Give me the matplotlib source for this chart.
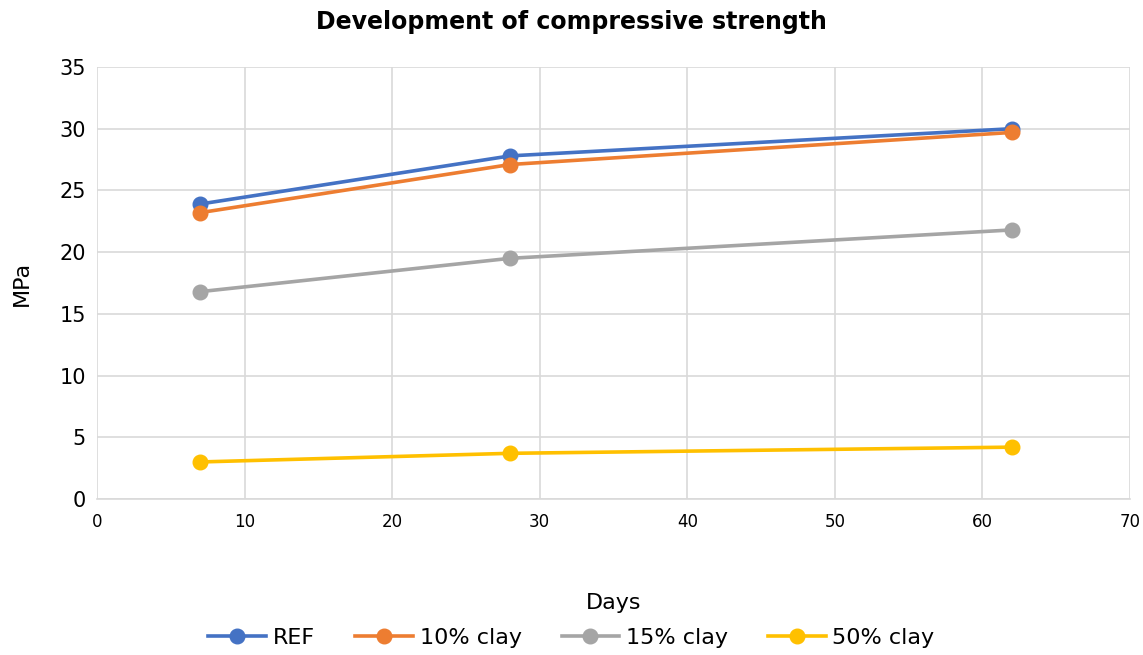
import matplotlib
matplotlib.use("Agg")
import matplotlib.pyplot as plt

days = [7, 28, 62]
ref = [23.9, 27.8, 30.0]
clay10 = [23.2, 27.1, 29.7]
clay15 = [16.8, 19.5, 21.8]
clay50 = [3.0, 3.7, 4.2]

series = [
    ("REF", ref, "#4472C4"),
    ("10% clay", clay10, "#ED7D31"),
    ("15% clay", clay15, "#A5A5A5"),
    ("50% clay", clay50, "#FFC000"),
]

plt.rcParams['font.family'] = ['DejaVu Sans']

fig = plt.figure(figsize=(11.43, 6.55), dpi=100)
ax = fig.add_axes([0.0849, 0.2382, 0.9037, 0.6595])

for name, vals, col in series:
    ax.plot(days, vals, color=col, lw=2.6, marker="o", ms=10.5, label=name)

ax.set_xlim(0, 70)
ax.set_ylim(0, 35)
ax.set_xticks(range(0, 71, 10))
ax.set_yticks(range(0, 36, 5))
ax.grid(True, color="#D9D9D9", lw=1.2)
ax.set_axisbelow(True)
for s in ["top", "right", "left"]:
    ax.spines[s].set_visible(False)
ax.spines["bottom"].set_color("#D9D9D9")
ax.spines["bottom"].set_linewidth(1.2)
ax.tick_params(axis="both", length=0, colors="#000000")
ax.tick_params(axis="x", labelsize=12, pad=10)
ax.tick_params(axis="y", labelsize=15, pad=8)

ax.set_xlabel("Days", fontsize=16, labelpad=45)
ax.set_ylabel("MPa", fontsize=16, labelpad=20)
fig.suptitle("Development of compressive strength", fontsize=17, fontweight="bold", y=0.985)

fig.legend(loc="lower center", ncol=4, frameon=False, fontsize=16,
           bbox_to_anchor=(0.5, -0.02), handlelength=2.6, columnspacing=1.8,
           handletextpad=0.3)

fig.savefig("out.png", dpi=100)
